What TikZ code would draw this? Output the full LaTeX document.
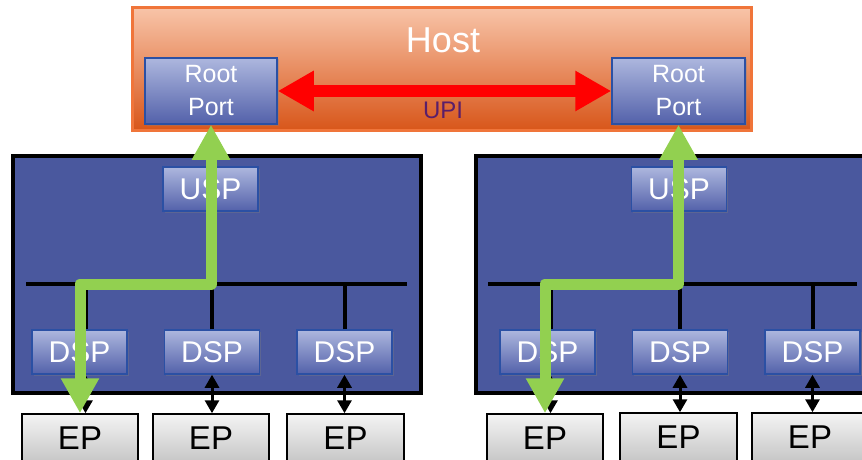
\documentclass[tikz,border=0pt]{standalone}
\usepackage{fontspec}
\setmainfont{Liberation Sans}
\usetikzlibrary{arrows.meta,positioning,shadows}
\definecolor{hostedge}{HTML}{F0753A}
\definecolor{hosttop}{HTML}{F8C4A8}
\definecolor{hostbot}{HTML}{D8561A}
\definecolor{portedge}{HTML}{2B50A4}
\definecolor{porttop}{HTML}{ADB7DE}
\definecolor{portbot}{HTML}{5361AA}
\definecolor{switchfill}{HTML}{4A589E}
\definecolor{eptop}{HTML}{F4F4F4}
\definecolor{epbot}{HTML}{C6C6C6}
\definecolor{routegreen}{HTML}{92D050}
\definecolor{upitext}{HTML}{5A1E6A}

\begin{document}
\begin{tikzpicture}[
    x=1pt, y=-1pt,
    hostbox/.style={rectangle, draw=hostedge, line width=3pt, top color=hosttop, bottom color=hostbot, minimum width=619pt, minimum height=122pt},
    port/.style={rectangle, draw=portedge, line width=1.5pt, top color=porttop, bottom color=portbot, text=white, inner sep=0pt, align=center, minimum width=95pt, minimum height=44pt, font=\fontsize{30}{30}\selectfont, drop shadow={shadow xshift=1.5pt, shadow yshift=-1.5pt, opacity=0.35}},
    rootport/.style={port, minimum width=132pt, minimum height=66pt, font=\fontsize{25}{33}\selectfont},
    switchbox/.style={rectangle, draw=black, line width=4pt, fill=switchfill, minimum height=237pt},
    epbox/.style={rectangle, draw=black, line width=1.5pt, top color=eptop, bottom color=epbot, minimum height=48pt, inner sep=0pt, font=\fontsize{33}{33}\selectfont},
    bus/.style={line width=4pt},
    link/.style={{Triangle[length=13pt,width=14pt]}-{Triangle[length=13pt,width=14pt]}, line width=3pt},
    upi/.style={{Triangle[length=36pt,width=38pt]}-{Triangle[length=36pt,width=38pt]}, red, line width=12pt},
    route/.style={{Triangle[length=35pt,width=36pt]}-{Triangle[length=35pt,width=36pt]}, routegreen, line width=11pt, line join=round}
]
    \useasboundingbox (0,0) rectangle (862,460);

    % switches
    \node[switchbox, minimum width=408pt] (swL) at (217,274) {};
    \node[switchbox, minimum width=400pt] (swR) at (676,274) {};

    \coordinate (busL1) at (26,284);
    \coordinate (busL2) at (407,284);
    \coordinate (busR1) at (488,284);
    \coordinate (busR2) at (857,284);
    \draw[bus] (busL1) -- (busL2);
    \draw[bus] (busR1) -- (busR2);

    \node[port] (uspL) at (210.5,189) {USP};
    \node[port] (uspR) at (679,189) {USP};

    \node[port] (dspL1) at (79.5,352) {DSP};
    \node[port, right=36pt of dspL1] (dspL2) {DSP};
    \node[port, right=36pt of dspL2] (dspL3) {DSP};
    \node[port] (dspR1) at (547.5,352) {DSP};
    \node[port, right=36pt of dspR1] (dspR2) {DSP};
    \node[port, right=36pt of dspR2] (dspR3) {DSP};

    \draw[bus] ([xshift=6pt]dspL1.north) -- ([xshift=6pt]dspL1.north |- busL1);
    \draw[bus] (dspL2.north) -- (dspL2.north |- busL1);
    \draw[bus] (dspL3.north) -- (dspL3.north |- busL1);
    \draw[bus] ([xshift=3pt]dspR1.north) -- ([xshift=3pt]dspR1.north |- busR1);
    \draw[bus] (dspR2.north) -- (dspR2.north |- busR1);
    \draw[bus] (dspR3.north) -- (dspR3.north |- busR1);

    % endpoints
    \node[epbox, minimum width=116pt] (epL1) at (80,438) {EP};
    \node[epbox, minimum width=116pt] (epL2) at (211,438) {EP};
    \node[epbox, minimum width=117pt] (epL3) at (345.5,438) {EP};
    \node[epbox, minimum width=116pt] (epR1) at (545,438) {EP};
    \node[epbox, minimum width=117pt] (epR2) at (678.5,437) {EP};
    \node[epbox, minimum width=116pt] (epR3) at (810,437) {EP};

    \draw[link] ([xshift=6pt]dspL1.south) -- ([xshift=6pt]dspL1.south |- epL1.north);
    \draw[link] (dspL2.south) -- (dspL2.south |- epL2.north);
    \draw[link] (dspL3.south) -- (dspL3.south |- epL3.north);
    \draw[link] ([xshift=3pt]dspR1.south) -- ([xshift=3pt]dspR1.south |- epR1.north);
    \draw[link] (dspR2.south) -- (dspR2.south |- epR2.north);
    \draw[link] (dspR3.south) -- (dspR3.south |- epR3.north);

    % host
    \node[hostbox] (host) at (441.5,69) {};
    \node[text=white, font=\fontsize{36}{36}\selectfont] (hostlabel) at (443,40) {Host};
    \node[rootport] (rpL) at (211,91) {Root\\Port};
    \node[rootport, minimum width=133pt] (rpR) at (678.5,91) {Root\\Port};
    \draw[upi] (rpL) -- (rpR);
    \node[text=upitext, font=\fontsize{24}{24}\selectfont] (upilabel) at (443,110) {UPI};

    % routes
    \draw[route] (rpL.south) -- (rpL.south |- busL1) -| (epL1.north);
    \draw[route] (rpR.south) -- (rpR.south |- busR1) -| (epR1.north);
\end{tikzpicture}
\end{document}
